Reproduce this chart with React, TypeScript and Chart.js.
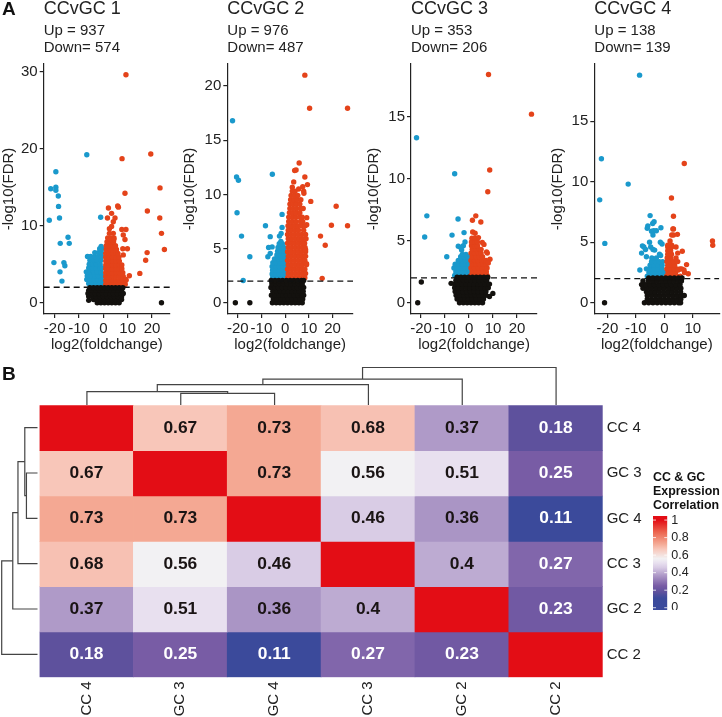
import React, { useEffect, useRef } from "react";
import { Chart, registerables } from "chart.js";

Chart.register(...registerables);
Chart.defaults.font.family = "'Liberation Sans', Arial, sans-serif";
Chart.defaults.color = "#222";

// Each row: first number is -log10(FDR), the rest are log2(foldchange) values.
const black1 = [
  [0, -2.5, -1, 0.5, 2, 3.5, 5, 6.5, 23.9],
  [0.3, -6],
  [0.4, -4, -2.5, -1, 0.5, 2, 3.5, 5, 6.5, 7.5],
  [0.8, -6, -4.5, -3, -1.5, 0, 1.5, 3, 4.5, 6, 7.5],
  [1.2, -6.3, -4.8, -3.3, -1.8, -0.3, 1.2, 2.7, 4.2, 5.7, 7.2, 8.2],
  [1.6, -6, -4.5, -3, -1.5, 0, 1.5, 3, 4.5, 6, 7.5],
  [1.95, -5.5, -4, -2.5, -1, 0.5, 2, 3.5, 5, 6.5, 8],
];
const blue1 = [
  [2.5, -6, -4.5, -3, -1.5, -0.3], [3, -6.8, -5.3, -3.8, -2.3, -0.8], [3.5, -6.6, -5, -3.5, -2, -0.5],
  [4, -7, -5.5, -4, -2.5, -1], [4.5, -6, -4.5, -3, -1.5, -0.4], [5, -5.8, -4.2, -2.8, -1.3],
  [5.5, -5.5, -4, -2.5, -1], [6, -6.5, -5.2, -3.6, -2, -0.7], [6.5, -3.5, -2, -0.8], [7, -1.5, -0.6], [7.3, -0.9],
  [19.2, -6.8], [17, -19.5], [14.8, -21.6], [15, -19.5], [14.6, -19.5], [13.85, -18.5], [12.5, -18.4], [11, -18],
  [10.7, -22.2], [8.5, -14.5], [7.7, -14, -17.7], [5.2, -20.3, -16.2], [4.8, -15.8], [4, -17.8], [2.8, -17], [11.1, -1.1],
];
const red1 = [
  [2.4, 1, 2.4, 3.8, 5.2, 6.6, 8, 9], [2.9, 1, 2.4, 3.8, 5.2, 6.6, 8, 9.3], [3.4, 1, 2.4, 3.8, 5.2, 6.6, 8.2],
  [3.9, 1, 2.4, 3.8, 5.2, 6.6, 8], [4.4, 1, 2.4, 3.8, 5.2, 6.6, 7.6], [4.9, 1, 2.4, 3.8, 5.2, 6.6, 7.6],
  [5.4, 1, 2.4, 3.8, 5.2, 6.6], [5.9, 1, 2.4, 3.8, 5.2, 6.4], [6.4, 1, 2.4, 3.8, 5.2, 6],
  [6.9, 1.2, 2.6, 4, 5.4], [7.4, 1.2, 2.6, 4, 5], [7.9, 1.5, 2.9, 4.2], [8.4, 1.8, 3.2, 4.4],
  [12.3, 2.1], [12.55, 5.9], [12.4, 6.2], [11.6, 3.4], [11, 1.7, 4.8], [10.5, 4.1], [9.9, 3.4], [9.6, 2.5],
  [9.5, 7.6, 9.3], [9, 4.1, 2.5], [8.8, 8.2], [8.2, 8.9, 3, 4.3], [7, 8, 9.9], [6.2, 8.2],
  [29.6, 9.3], [18.7, 7.7], [19.3, 19.5], [14.9, 23.3], [14.2, 8.9], [11.9, 18.1], [11, 23.2], [9, 23.9],
  [6.9, 25.1], [6.5, 18], [5.5, 17.4], [3.8, 15], [3.5, 10.7], [3, 9.3],
];

const black2 = [
  [0, -5.4, -3.8, -2.2, -0.6, 1, 2.6, 4.2, 5.8, 7.2, -21, -14.9],
  [0.35, -5, -3.4, -1.8, -0.2, 1.4, 3, 4.6, 6.2, 7.4],
  [0.7, -5.8, -4.2, -2.6, -1, 0.6, 2.2, 3.8, 5.4, 7, 7.8],
  [1.05, -5.2, -3.6, -2, -0.4, 1.2, 2.8, 4.4, 6, 7.6],
  [1.4, -6, -4.4, -2.8, -1.2, 0.4, 2, 3.6, 5.2, 6.8, 7.8],
  [1.75, -5.6, -4, -2.4, -0.8, 0.8, 2.4, 4, 5.6, 7.2],
  [2.05, -5.9, -4.3, -2.7, -1.1, 0.5, 2.1, 3.7, 5.3, 6.9, 7.8],
];
const blue2 = [
  [2.3, -5.3, -3.8, -2.3, -0.8, 0.3], [2.65, -5.5, -4, -2.5, -1, 0.3], [3, -5.3, -3.8, -2.3, -0.8, 0.3],
  [3.35, -5.5, -4, -2.5, -1, 0.3], [3.7, -5.2, -3.7, -2.2, -0.7], [4.05, -4.5, -3, -1.5, -0.2],
  [4.4, -3.5, -2, -0.5], [4.75, -3.2, -1.7, -0.4], [5.1, -3, -1.7, -0.6], [5.45, -2.5, -1.2], [5.65, -1.8],
  [16.8, -22.2], [11.6, -20.5], [11.3, -19.7], [8.3, -20.3], [6.15, -18.4, -2.4], [4.25, -14.9, -7.3], [2.05, -17.7],
  [11.85, -5.4], [8.15, -1.3], [7.1, -8.3], [6.1, -6.3], [6.95, -1.3], [6.4, -1.7], [5.1, -7], [5.15, -5.5], [4.55, -6.3],
];
const red2 = [
  [2.3, 1, 2.5, 4, 5.5, 7, 8.3], [2.7, 1.3, 2.8, 4.3, 5.8, 7.3, 8.6], [3.1, 1, 2.5, 4, 5.5, 7, 8.3],
  [3.5, 1.3, 2.8, 4.3, 5.8, 7.3, 9], [3.9, 1, 2.5, 4, 5.5, 7, 8.3], [4.3, 1.3, 2.8, 4.3, 5.8, 7.3, 8.6],
  [4.7, 1, 2.5, 4, 5.5, 7, 8.6], [5.1, 1.3, 2.8, 4.3, 5.8, 7.3, 8.4], [5.5, 1, 2.5, 4, 5.5, 7, 8.2],
  [5.9, 1.3, 2.8, 4.3, 5.8, 7.3, 8.8], [6.3, 1, 2.5, 4, 5.5, 7, 8.6], [6.7, 1.3, 2.8, 4.3, 5.6, 7.8],
  [7.1, 1.2, 2.5, 4, 5.3, 6.8, 8.4], [7.5, 1.5, 3, 4.5, 6.5, 7.4], [7.9, 1.5, 3, 4.5, 6, 7.2],
  [8.3, 1.8, 3.2, 4.6, 6.2], [8.7, 2, 3.4, 4.8, 6.4, 7.6], [9.1, 2, 3.4, 4.8, 6.2], [9.5, 2.3, 3.7, 5, 6.6],
  [9.9, 2.5, 3.9, 5.3], [10.3, 3, 4.2, 7.8],
  [12.9, 5.9], [12.25, 4.6], [12.2, 4], [11.6, 8.3], [11.15, 3.6], [10.9, 9.4], [10.7, 7.4], [10.65, 3], [10.5, 5.7], [10.1, 7.9],
  [7.85, 9.1], [7.2, 9.1], [4.9, 8.6], [3.6, 9],
  [21, 8.3], [17.95, 10.3, 26.3], [8.9, 21.5], [7.15, 19.5], [7.1, 26.3], [6.15, 14.9], [5.3, 16.9], [2.25, 15.6], [9.35, 10.8],
];

const black3 = [
  [0, -4, -2.4, -0.8, 0.8, 2.4, 4, 5.6, -21.4],
  [0.3, -5, -3.4, -1.8, -0.2, 1.4, 3, 4.6, 6],
  [0.5, 8.5],
  [0.6, -5.4, -3.8, -2.2, -0.6, 1, 2.6, 4.2, 5.8, 7],
  [0.75, 9.9],
  [0.9, -5.8, -4.2, -2.6, -1, 0.6, 2.2, 3.8, 5.4, 7],
  [1.2, -6, -4.4, -2.8, -1.2, 0.4, 2, 3.6, 5.2, 6.8, 8],
  [1.5, -6, -4.4, -2.8, -1.2, 0.4, 2, 3.6, 5.2, 6.8, 8.5],
  [1.8, -5.5, -3.9, -2.3, -0.7, 0.9, 2.5, 4.1, 5.7, 7.3],
  [2.05, -5, -3.4, -1.8, -0.2, 1.4, 3, 4.6, 6.2, 7.8],
  [1.67, -19.9], [1.56, -7.5],
];
const blue3 = [
  [2.2, -6, -4.5, -3, -1.5, -0.3], [2.5, -5.5, -4, -2.5, -1, 0.2], [2.8, -6.3, -4.8, -3.3, -1.8, -0.4],
  [3.1, -5.8, -4.3, -2.8, -1.3, 0], [3.4, -4.5, -3, -1.5, -0.3], [3.7, -3.5, -2, -0.6], [3.9, -2.8, -1.3],
  [13.3, -21.9], [10.4, -6], [7, -17.6], [6.75, -4.6], [5.3, -18.5], [5.45, -7.1], [5.65, -2.1], [3.7, -9.3],
  [4.55, -4.5], [4.9, -1.7], [4.6, -2.4], [4.45, -3.5], [4.25, -3.1],
];
const red3 = [
  [2.2, 0.8, 2.3, 3.8, 5.3, 6.8, 7.5], [2.5, 1.3, 2.8, 4.3, 5.8, 7.2], [2.8, 0.8, 2.3, 3.8, 5.3, 6.8, 7.5],
  [3.1, 1.3, 2.8, 4.3, 5.8, 7], [3.4, 0.8, 2.3, 3.8, 5.3, 6.4], [3.7, 1.3, 2.8, 4.3, 5.6], [4, 0.8, 2.3, 3.8, 5],
  [4.3, 1.3, 2.8, 4.3, 5], [4.6, 1, 2.3, 3.5], [4.9, 1, 2.4, 3.5], [5.2, 1.2, 2.5],
  [18.4, 8.1], [15.2, 26], [10.7, 8.6], [8.95, 7.8], [7, 2.8], [6.65, 1.4], [6.5, 4.9],
  [5.7, 1.5], [5.6, 2.5], [5.25, 3.9], [4.85, 5.5], [4.7, 6.2], [4.1, 7.3], [4, 7.6], [3.5, 8.7], [3.4, 7.1], [3.2, 8],
];

const black4 = [
  [0, -7, -5.5, -4, -2.5, -1, 0.5, 2, 3.5, 5, 5.7, -21],
  [0.3, -6, -4.5, -3, -1.5, 0, 1.5, 3, 4.5, 5.8],
  [0.6, -6, -4.5, -3, -1.5, 0, 1.5, 3, 4.5, 6, 7],
  [0.9, -6.3, -4.8, -3.3, -1.8, -0.3, 1.2, 2.7, 4.2, 5.7],
  [1.2, -7.5, -6, -4.5, -3, -1.5, 0, 1.5, 3, 4.5, 5.8],
  [1.5, -8, -6.5, -5, -3.5, -2, -0.5, 1, 2.5, 4, 5.5],
  [1.8, -7.5, -5.6, -4, -2.5, -1, 0.5, 2, 3.5, 5, 6],
  [2.05, -5.5, -4, -2.5, -1, 0.5, 2, 3.5, 5, 6.2],
];
const blue4 = [
  [2.2, -6, -4.5, -3, -1.5, -0.2], [2.5, -5.4, -4, -2.6, -1.2, 0], [2.8, -6.3, -5, -3.6, -2.2, -0.8],
  [3.1, -5, -3.6, -2.2, -0.8], [3.4, -4.5, -3.2, -1.8, -0.6], [3.7, -4.4, -2.8],
  [18.8, -8.7], [11.9, -22.1], [9.8, -12.7], [8.5, -22.7], [4.9, -20.9],
  [7.2, -5], [6.7, -3.6], [6.55, -4.1], [6.35, -5.8], [6.15, -6], [5.9, -4.5], [5.95, -3.7, -2.8], [6.2, -1.2], [5.6, -4],
  [5, -5.2, -1.4], [4.85, -0.8], [4.7, -7.7], [4.6, -7.2, -4.8], [4.4, -6.6, -4], [4.35, -3.4], [4.1, -8],
  [3.8, -6.3], [4, -1.7], [3.9, -1.3], [2.7, -8.6],
];
const red4 = [
  [2.2, 0.8, 2, 3.3, 4.6, 5.6], [2.5, 1.3, 2.6, 3.9, 7.1], [2.8, 0.9, 2.1, 3.4, 4.4, 5.5], [3.1, 1.2, 2.5, 3.6],
  [3.4, 0.9, 2.1, 3.2, 4.7], [3.7, 1, 2.3, 4.1], [4, 1.2, 2.5], [4.3, 1.2, 2.2], [4.6, 1.2, 2.6],
  [11.5, 7], [8.65, 2.5], [7.15, 3.2], [5.1, 16.9, 2], [4.75, 17, 1.2, 2.6], [6.1, 3, 3.2], [5.65, 4.6], [5.6, 3.2, 2.6],
  [4.6, 4.1], [4.25, 6.3], [4.1, 4.7], [3.15, 7.8], [2.4, 8.4], [2.8, 6.1], [2.7, 6.9, 4.9],
];

const panelTitles = ["CCvGC 1", "CCvGC 2", "CCvGC 3", "CCvGC 4"];
const panelCounts = [
  ["Up = 937", "Down= 574"],
  ["Up = 976", "Down= 487"],
  ["Up = 353", "Down= 206"],
  ["Up = 138", "Down= 139"],
];
const yStepSizes = [10, 5, 5, 5];
const fdrCutoff = 2;

const colLabels = ["CC 4", "GC 3", "GC 4", "CC 3", "GC 2", "CC 2"];
const rowLabels = ["CC 4", "GC 3", "GC 4", "CC 3", "GC 2", "CC 2"];
const rowCC4 = [1, 0.67, 0.73, 0.68, 0.37, 0.18];
const rowGC3 = [0.67, 1, 0.73, 0.56, 0.51, 0.25];
const rowGC4 = [0.73, 0.73, 1, 0.46, 0.36, 0.11];
const rowCC3 = [0.68, 0.56, 0.46, 1, 0.4, 0.27];
const rowGC2 = [0.37, 0.51, 0.36, 0.4, 1, 0.23];
const rowCC2 = [0.18, 0.25, 0.11, 0.27, 0.23, 1];
const corrRows = [rowCC4, rowGC3, rowGC4, rowCC3, rowGC2, rowCC2];

// [from position, from height, to position, to height, merge height]
const dendroMerges = [
  [1.5, 0, 2.5, 0, 11.5],
  [0.5, 0, 2, 11.5, 13.2],
  [1.25, 13.2, 3.5, 0, 20.3],
  [2.375, 20.3, 4.5, 0, 25.7],
  [3.4375, 25.7, 5.5, 0, 37.2],
];

const legendTitle = ["CC & GC", "Expression", "Correlation"];
const colorStops: [number, string][] = [
  [0, "#3A4A9C"], [0.11, "#3B4A9B"], [0.18, "#5E519D"], [0.25, "#785CA5"], [0.37, "#AF9AC8"],
  [0.46, "#D9CCE5"], [0.51, "#E8E0EF"], [0.56, "#F2F1F3"], [0.67, "#F8C6B9"], [0.73, "#F4A893"],
  [0.86, "#EC6650"], [1, "#E30D15"],
];

const BLUE = "#1A99CC";
const RED = "#E4431A";
const BLACK = "#13110E";
const INK = "#222";

function hexToRgb(h: string) {
  return [1, 3, 5].map((i) => parseInt(h.slice(i, i + 2), 16));
}
function colorFor(v: number) {
  for (let i = 1; i < colorStops.length; i++) {
    const [a, ca] = colorStops[i - 1];
    const [b, cb] = colorStops[i];
    if (v <= b) {
      const t = (v - a) / (b - a);
      const A = hexToRgb(ca);
      const B = hexToRgb(cb);
      return `rgb(${A.map((x, k) => Math.round(x + (B[k] - x) * t)).join(",")})`;
    }
  }
  return colorStops[colorStops.length - 1][1];
}
function toPoints(rows: number[][]) {
  const out: { x: number; y: number }[] = [];
  rows.forEach(([y, ...xs]) => xs.forEach((x) => out.push({ x, y })));
  return out;
}

const letterPlugin = (letter: string, x: number, y: number) => ({
  id: "panelLetter",
  afterDraw(chart: any) {
    const c = chart.ctx;
    c.save();
    c.font = "bold 19px 'Liberation Sans', Arial, sans-serif";
    c.fillStyle = "#111";
    c.textBaseline = "middle";
    c.textAlign = "left";
    c.fillText(letter, x, y);
    c.restore();
  },
});

type Box = {
  L: number; W: number; plotLeft: number; plotRight: number;
  xMin: number; xMax: number; yMin: number; yMax: number;
};
const H = 355;
const boxes: Box[] = [
  { L: 0, W: 181, plotLeft: 43.7, plotRight: 170, xMin: -24.5, xMax: 27.4, yMin: -1.47, yMax: 31 },
  { L: 181, W: 184, plotLeft: 227.3, plotRight: 353, xMin: -24.4, xMax: 28.6, yMin: -1.04, yMax: 22.04 },
  { L: 365, W: 184, plotLeft: 411, plotRight: 537, xMin: -24.2, xMax: 28.3, yMin: -0.91, yMax: 19.25 },
  { L: 549, W: 173, plotLeft: 594.3, plotRight: 721.5, xMin: -24.6, xMax: 19.3, yMin: -0.93, yMax: 19.73 },
];
const series = [
  [black1, red1, blue1],
  [black2, red2, blue2],
  [black3, red3, blue3],
  [black4, red4, blue4],
];

const pointSet = (label: string, rows: number[][], color: string) => ({
  label,
  data: toPoints(rows),
  backgroundColor: color,
  borderWidth: 0,
  pointRadius: 2.7,
  pointHoverRadius: 2.7,
});

function volcanoConfig(i: number): any {
  const b = boxes[i];
  const [blk, red, blu] = series[i];
  return {
    type: "scatter",
    data: {
      datasets: [
        {
          label: "FDR cutoff",
          data: [{ x: b.xMin, y: fdrCutoff }, { x: b.xMax, y: fdrCutoff }],
          showLine: true,
          borderColor: "#111",
          borderWidth: 1.3,
          borderDash: [6, 4],
          pointRadius: 0,
        },
        pointSet("Not significant", blk, BLACK),
        pointSet("Up", red, RED),
        pointSet("Down", blu, BLUE),
      ],
    },
    options: {
      responsive: false,
      animation: false,
      events: [],
      layout: { padding: { left: 0, right: b.W - (b.plotRight - b.L), top: 0, bottom: 0 } },
      plugins: {
        legend: { display: false },
        tooltip: { enabled: false },
        title: {
          display: true, text: panelTitles[i], align: "start", fullSize: false, color: INK,
          font: { size: 18, weight: "normal", lineHeight: 1 },
          padding: { top: 0, bottom: 4.3 },
        },
        subtitle: {
          display: true, text: panelCounts[i], align: "start", fullSize: false, color: INK,
          font: { size: 15, weight: "normal", lineHeight: 1.15 },
          padding: { top: 0, bottom: 7.1 },
        },
      },
      scales: {
        x: {
          type: "linear", min: b.xMin, max: b.xMax,
          afterFit: (s: any) => { s.height = H - 314; },
          grid: { drawOnChartArea: false, drawTicks: true, tickLength: 4, color: INK, lineWidth: 1.2 },
          border: { display: true, color: INK, width: 1.2 },
          ticks: { stepSize: 10, includeBounds: false, autoSkip: false, maxRotation: 0, padding: 2, color: INK, font: { size: 15 } },
          title: { display: true, text: "log2(foldchange)", color: INK, font: { size: 15, lineHeight: 1.2 }, padding: { top: 0, bottom: 1 } },
        },
        y: {
          type: "linear", min: b.yMin, max: b.yMax,
          afterFit: (s: any) => { s.width = b.plotLeft - b.L; },
          grid: { drawOnChartArea: false, drawTicks: true, tickLength: 4, color: INK, lineWidth: 1.2 },
          border: { display: true, color: INK, width: 1.2 },
          ticks: { stepSize: yStepSizes[i], includeBounds: false, autoSkip: false, padding: 2, color: INK, font: { size: 15 } },
          title: { display: true, text: "-log10(FDR)", color: INK, font: { size: 15, lineHeight: 1.2 }, padding: 0 },
        },
      },
    },
    plugins: i === 0 ? [letterPlugin("A", 2, 9.5)] : [],
  };
}

const cellTextPlugin = {
  id: "cellText",
  afterDatasetsDraw(chart: any) {
    const c = chart.ctx;
    c.save();
    c.font = "bold 17.4px 'Liberation Sans', Arial, sans-serif";
    c.textAlign = "center";
    c.textBaseline = "middle";
    corrRows.forEach((row, r) => {
      const meta = chart.getDatasetMeta(r);
      row.forEach((v, k) => {
        if (v === 1) return;
        const el = meta.data[k];
        c.fillStyle = v < 0.3 ? "#fff" : "#1a1414";
        c.fillText(String(v), el.x, (el.y + el.base) / 2);
      });
    });
    c.restore();
  },
};

function heatmapConfig(): any {
  return {
    type: "bar",
    data: {
      labels: colLabels,
      datasets: corrRows.map((row, r) => ({
        label: rowLabels[r],
        data: row.map(() => [r, r + 1]),
        backgroundColor: row.map(colorFor),
        borderWidth: 0,
        grouped: false,
        barPercentage: 1,
        categoryPercentage: 1,
      })),
    },
    options: {
      responsive: false,
      animation: false,
      events: [],
      layout: { padding: { left: 39.5, top: 45.3, right: 0, bottom: 0 } },
      plugins: { legend: { display: false }, tooltip: { enabled: false } },
      scales: {
        x: {
          type: "category",
          afterFit: (s: any) => { s.height = 717 - 677.3; },
          grid: { display: false, drawTicks: false },
          border: { display: false },
          ticks: { autoSkip: false, minRotation: 90, maxRotation: 90, padding: 4, color: INK, font: { size: 15 } },
        },
        y: {
          type: "linear", position: "right", min: 0, max: 6, reverse: true,
          afterFit: (s: any) => { s.width = 650 - 602.7; },
          afterBuildTicks: (s: any) => { s.ticks = rowLabels.map((_, k) => ({ value: k + 0.5 })); },
          grid: { display: false, drawTicks: false },
          border: { display: false },
          ticks: {
            autoSkip: false, padding: 4, color: INK, font: { size: 15 },
            callback: (v: number) => rowLabels[Math.floor(v)],
          },
        },
      },
    },
    plugins: [cellTextPlugin, letterPlugin("B", 2, 15)],
  };
}

function dendroDatasets(swap: boolean) {
  return dendroMerges.map(([a, ah, b, bh, h]) => {
    const raw = [[a, ah], [a, h], [b, h], [b, bh]];
    return {
      data: raw.map(([p, v]) => (swap ? { x: v, y: p } : { x: p, y: v })),
      showLine: true,
      borderColor: "#444",
      borderWidth: 1.2,
      pointRadius: 0,
      tension: 0,
      clip: false,
    };
  });
}

function dendroTopConfig(): any {
  return {
    type: "scatter",
    data: { datasets: dendroDatasets(false) },
    options: {
      responsive: false, animation: false, events: [],
      layout: { padding: { top: 7.5, bottom: 0, left: 0, right: 0 } },
      plugins: { legend: { display: false }, tooltip: { enabled: false } },
      scales: {
        x: { type: "linear", display: false, min: 0, max: 6 },
        y: { type: "linear", display: false, min: 0, max: 37.2 },
      },
    },
  };
}

function dendroLeftConfig(): any {
  return {
    type: "scatter",
    data: { datasets: dendroDatasets(true) },
    options: {
      responsive: false, animation: false, events: [],
      layout: { padding: { left: 1.7, right: 0.5, top: 0, bottom: 0 } },
      plugins: { legend: { display: false }, tooltip: { enabled: false } },
      scales: {
        x: { type: "linear", display: false, min: 0, max: 37.2, reverse: true },
        y: { type: "linear", display: false, min: 0, max: 6, reverse: true },
      },
    },
  };
}

const colorbarTicks = {
  id: "colorbarTicks",
  afterDatasetsDraw(chart: any) {
    const c = chart.ctx;
    const a = chart.chartArea;
    const s = chart.scales.y;
    c.save();
    c.strokeStyle = "#fff";
    c.lineWidth = 0.8;
    s.ticks.forEach((t: any) => {
      const y = s.getPixelForValue(t.value);
      c.beginPath();
      c.moveTo(a.left, y); c.lineTo(a.left + 3, y);
      c.moveTo(a.right - 3, y); c.lineTo(a.right, y);
      c.stroke();
    });
    c.restore();
  },
};

function colorbarConfig(): any {
  const lo = -0.026;
  const hi = 1.046;
  return {
    type: "bar",
    data: {
      labels: ["Correlation"],
      datasets: [{
        data: [[lo, hi]],
        borderWidth: 0,
        barPercentage: 1,
        categoryPercentage: 1,
        backgroundColor: (ctx: any) => {
          const { chart } = ctx;
          const s = chart.scales.y;
          if (!s || !chart.chartArea) return "#888";
          const g = chart.ctx.createLinearGradient(0, s.getPixelForValue(lo), 0, s.getPixelForValue(hi));
          g.addColorStop(0, colorFor(0));
          colorStops.forEach(([v, col]) => g.addColorStop((v - lo) / (hi - lo), col));
          g.addColorStop(1, colorFor(1));
          return g;
        },
      }],
    },
    options: {
      responsive: false, animation: false, events: [],
      layout: { padding: { left: 0, right: 0, top: 0, bottom: 0 } },
      plugins: {
        legend: { display: false },
        tooltip: { enabled: false },
        title: {
          display: true, text: legendTitle, align: "start", color: "#111",
          font: { size: 12.4, weight: "bold", lineHeight: 1.13 },
          padding: { top: 0, bottom: 3 },
        },
      },
      scales: {
        x: { display: false },
        y: {
          type: "linear", position: "right", min: lo, max: hi,
          afterFit: (s: any) => {
            s.width = 722 - 667.3;
            s.paddingTop = 0;
            s.paddingBottom = 0;
          },
          grid: { display: false, drawTicks: false },
          border: { display: false },
          ticks: {
            stepSize: 0.2, includeBounds: false, autoSkip: false, padding: 4, color: INK,
            font: { size: 12.5 },
            callback: (v: number) => String(+v.toFixed(1)),
          },
        },
      },
    },
    plugins: [colorbarTicks],
  };
}

function Canvas({ config, left, top, width, height }: { config: () => any; left: number; top: number; width: number; height: number }) {
  const ref = useRef<HTMLCanvasElement>(null);
  useEffect(() => {
    const chart = new Chart(ref.current as HTMLCanvasElement, config());
    return () => chart.destroy();
  }, []);
  return <canvas ref={ref} width={width} height={height} style={{ position: "absolute", left, top, width, height, display: "block" }} />;
}

export default function App() {
  return (
    <div style={{ position: "absolute", left: 0, top: 0, width: 722, height: 717, overflow: "hidden", background: "#fff" }}>
      {boxes.map((b, i) => (
        <Canvas key={i} config={() => volcanoConfig(i)} left={b.L} top={0} width={b.W} height={H} />
      ))}
      <Canvas config={heatmapConfig} left={0} top={360} width={650} height={357} />
      <Canvas config={dendroTopConfig} left={40} top={360} width={563} height={45} />
      <Canvas config={dendroLeftConfig} left={0} top={405} width={38} height={272} />
      <Canvas config={colorbarConfig} left={653} top={471} width={69} height={139} />
    </div>
  );
}
